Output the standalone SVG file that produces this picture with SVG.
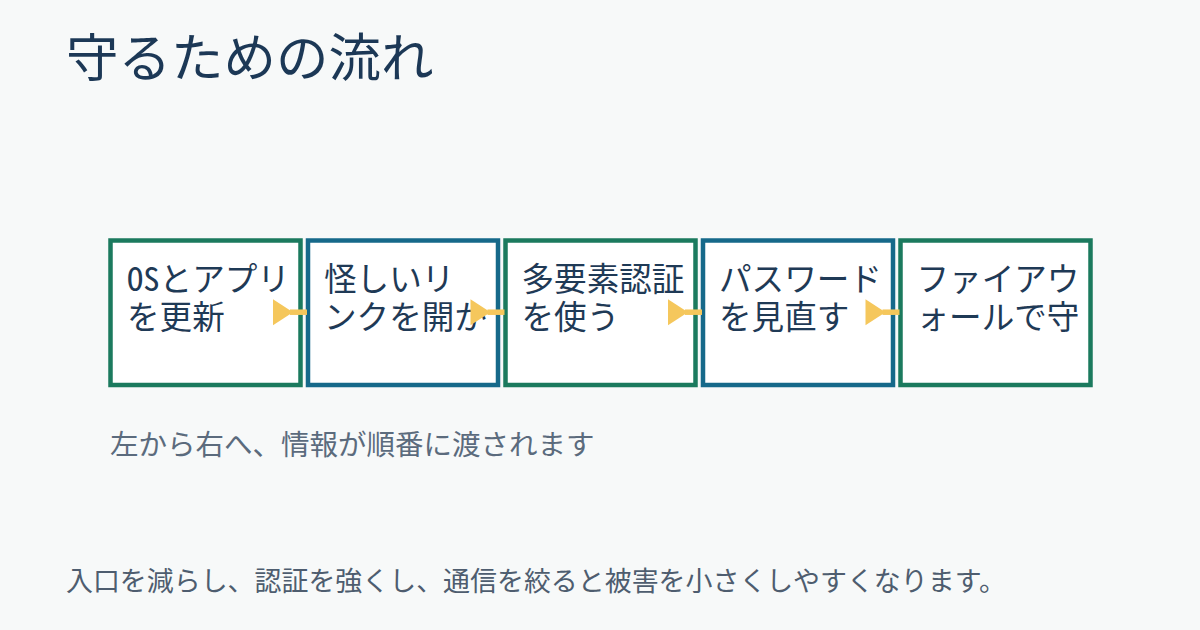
<svg xmlns="http://www.w3.org/2000/svg" width="1200" height="630" viewBox="0 0 1200 630">
<style>
.bg{fill:#f7f9f9}
.box{fill:#ffffff;stroke-width:4.5}
.g{stroke:#1b7a5e}
.b{stroke:#16698a}
.lbl{font-family:"Noto Sans Mono CJK JP","Noto Sans CJK JP",monospace;font-size:32.6px;fill:#1f3a56}
.title{font-family:"Noto Sans CJK JP",sans-serif;font-size:52.5px;fill:#1c3856}
.sub{font-family:"Noto Sans CJK JP",sans-serif;font-size:28.5px;fill:#5b6b7d}
.foot{font-family:"Noto Sans CJK JP",sans-serif;font-size:26.95px;fill:#4e5d6f}
.ln{stroke:#f5c75c;stroke-width:5.5;fill:none}
.hd{fill:#f5c75c}
</style>
<rect class="bg" x="0" y="0" width="1200" height="630"/>
<text class="title" x="66" y="77">守るための流れ</text>
<g id="node1">
<rect class="box g" x="110.5" y="240.5" width="190" height="144.5"/>
<text class="lbl" x="127" y="290.5">OSとアプリ</text>
<text class="lbl" x="127" y="328.5">を更新</text>
</g>
<g id="node2">
<rect class="box b" x="308" y="240.5" width="190" height="144.5"/>
<text class="lbl" x="324" y="290.5">怪しいリ</text>
<text class="lbl" x="324" y="328.5">ンクを開か</text>
</g>
<g id="node3">
<rect class="box g" x="505.5" y="240.5" width="190" height="144.5"/>
<text class="lbl" x="521.5" y="290.5">多要素認証</text>
<text class="lbl" x="521.5" y="328.5">を使う</text>
</g>
<g id="node4">
<rect class="box b" x="703" y="240.5" width="190" height="144.5"/>
<text class="lbl" x="719" y="290.5">パスワード</text>
<text class="lbl" x="719" y="328.5">を見直す</text>
</g>
<g id="node5">
<rect class="box g" x="900.5" y="240.5" width="190" height="144.5"/>
<text class="lbl" x="916.5" y="290.5">ファイアウ</text>
<text class="lbl" x="916.5" y="328.5">ォールで守</text>
</g>
<g id="connectors">
<line class="ln" x1="290" y1="312.2" x2="307" y2="312.2"/>
<polygon class="hd" points="273,299.2 293,312.2 273,325.2"/>
<line class="ln" x1="487.5" y1="312.2" x2="504.5" y2="312.2"/>
<polygon class="hd" points="470.5,299.2 490.5,312.2 470.5,325.2"/>
<line class="ln" x1="685" y1="312.2" x2="702" y2="312.2"/>
<polygon class="hd" points="668,299.2 688,312.2 668,325.2"/>
<line class="ln" x1="882.5" y1="312.2" x2="899.5" y2="312.2"/>
<polygon class="hd" points="865.5,299.2 885.5,312.2 865.5,325.2"/>
</g>
<text class="sub" x="110" y="455">左から右へ、情報が順番に渡されます</text>
<text class="foot" x="66" y="590.5">入口を減らし、認証を強くし、通信を絞ると被害を小さくしやすくなります。</text>
</svg>
